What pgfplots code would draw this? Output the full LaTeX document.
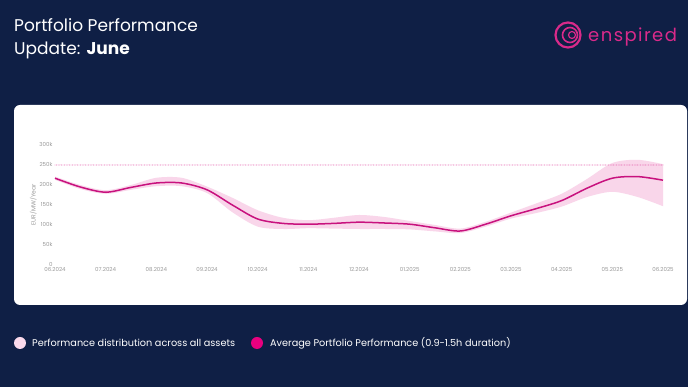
\documentclass[border=0pt]{standalone}
\usepackage{pgfplots}
\pgfplotsset{compat=1.18}
\usepgfplotslibrary{fillbetween}
\usepackage{fontspec}
\setmainfont{Poppins}
\definecolor{navy}{HTML}{0F1F45}
\definecolor{mag}{HTML}{C8127E}
\definecolor{logo}{HTML}{D92A8A}
\definecolor{band}{HTML}{F9D6EA}
\definecolor{legdot}{HTML}{E8007F}
\definecolor{legpink}{HTML}{FAD9EC}
\definecolor{tickgray}{HTML}{9A9A9A}
\definecolor{dotpink}{HTML}{E0479F}
\begin{document}
\begin{tikzpicture}[x=1pt,y=1pt]
\fill[navy] (0,0) rectangle (688,387);
\fill[white,rounded corners=6pt] (14,82) rectangle (687,282);
% title
\node[anchor=base west,text=white,font=\fontsize{17}{19}\selectfont,inner sep=0] at (14,355) {Portfolio Performance};
\node[anchor=base west,text=white,font=\fontsize{17}{19}\selectfont,inner sep=0] at (14,332) {Update: \textbf{June}};
% logo
\draw[logo,line width=2.2pt] (568,352) circle (12.5);
\draw[logo,line width=1.6pt] (570,352) circle (7.5);
\draw[logo,line width=1.2pt] (572,352) circle (3.5);
\node[anchor=base west,text=logo,font=\fontsize{18}{20}\selectfont\addfontfeature{LetterSpace=8},inner sep=0] at (588,345) {enspired};
% legend
\fill[legpink] (20,44) circle (6);
\node[anchor=west,text=white,font=\fontsize{9.7}{11}\selectfont,inner sep=0] at (32,44) {Performance distribution across all assets};
\fill[legdot] (257,44) circle (6);
\node[anchor=west,text=white,font=\fontsize{9.7}{11}\selectfont,inner sep=0] at (270,44) {Average Portfolio Performance (0.9-1.5h duration)};
\begin{axis}[
  at={(55pt,122pt)}, anchor=origin,
  scale only axis, width=608pt, height=120pt,
  xmin=0, xmax=12, ymin=0, ymax=300000,
  axis lines*=left, axis line style={draw=black!25,line width=0.4pt},
  y axis line style={draw=none},
  xtick={0,...,12},
  xticklabels={06.2024,07.2024,08.2024,09.2024,10.2024,11.2024,12.2024,01.2025,02.2025,03.2025,04.2025,05.2025,06.2025},
  ytick={0,50000,100000,150000,200000,250000,300000},
  yticklabels={0,50k,100k,150k,200k,250k,300k},
  scaled y ticks=false,
  tick style={draw=none},
  grid=major, grid style={draw=black!6,line width=0.4pt},
  ticklabel style={font=\fontsize{5.5}{6}\selectfont,text=tickgray},
  /pgf/number format/assume math mode=true,
  xticklabel style={yshift=1pt},
  yticklabel style={xshift=1pt,yshift=1pt},
  ylabel={EUR/MW/Year}, ylabel style={font=\fontsize{6}{7}\selectfont,text=tickgray,yshift=-4pt},
  fill between/on layer=main,
  clip=false,
]
\addplot[name path=up,draw=none,smooth] coordinates {
(0,221000)(0.5,200000)(1,187000)(1.5,200000)(2,218000)(2.5,218000)(3,196000)(3.5,168000)(4,137000)(4.5,118000)(5,112000)(5.5,118000)(6,125000)(6.5,120000)(7,110000)(7.5,100000)(8,91000)(8.5,108000)(9,131000)(9.5,154000)(10,178000)(10.5,215000)(11,255000)(11.5,263000)(12,252000)};
\addplot[name path=lo,draw=none,smooth] coordinates {
(0,213000)(0.5,190000)(1,178000)(1.5,188000)(2,197000)(2.5,197000)(3,180000)(3.5,132000)(4,96000)(4.5,90000)(5,92000)(5.5,91000)(6,90000)(6.5,90000)(7,89000)(7.5,84000)(8,80000)(8.5,96000)(9,116000)(9.5,130000)(10,146000)(10.5,170000)(11,183000)(11.5,170000)(12,147000)};
\addplot[band,draw=none] fill between[of=up and lo];
\addplot[dotpink,line width=0.9pt,line cap=round,dash pattern=on 0pt off 1.6pt] coordinates {(0,250000)(12,250000)};
\addplot[mag,line width=1.5pt,smooth] coordinates {
(0,217000)(0.5,195000)(1,182000)(1.5,194000)(2,205000)(2.5,205000)(3,188000)(3.5,150000)(4,115000)(4.5,104000)(5,102000)(5.5,104000)(6,107000)(6.5,105000)(7,102000)(7.5,93000)(8,85000)(8.5,102000)(9,123000)(9.5,141000)(10,161000)(10.5,192000)(11,217000)(11.5,221000)(12,212000)};
\end{axis}
\end{tikzpicture}
\end{document}
